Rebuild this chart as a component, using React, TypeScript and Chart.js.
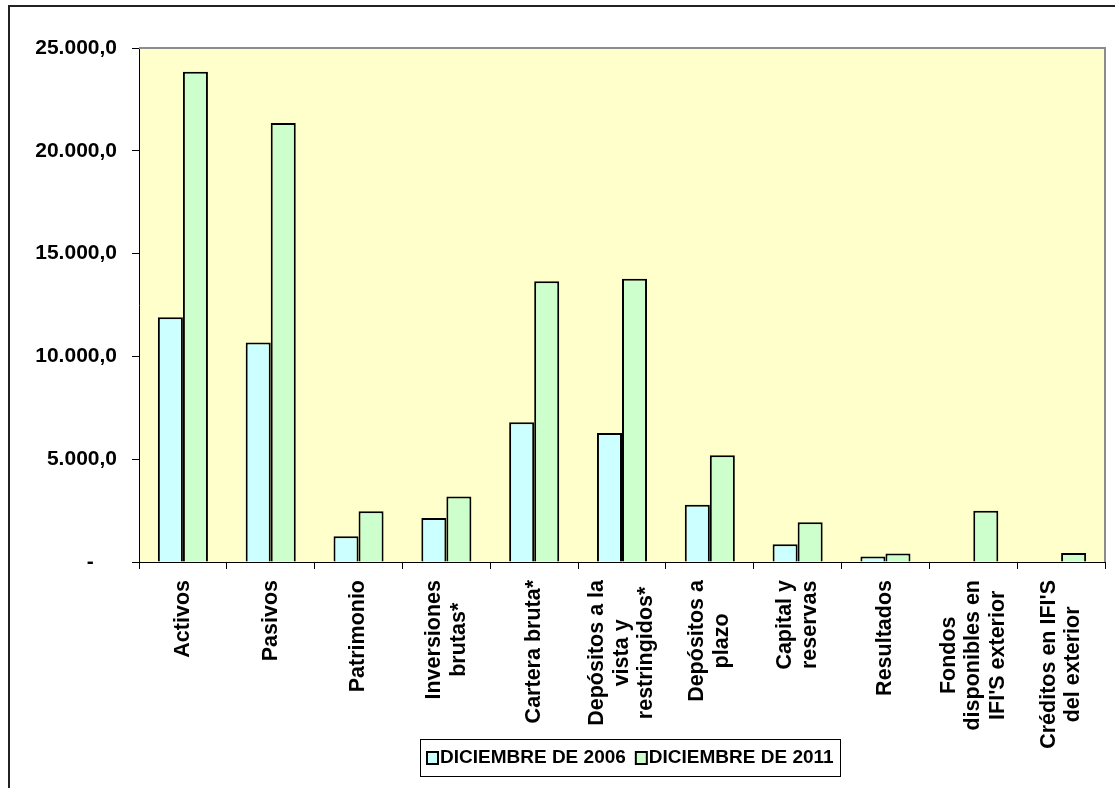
import React, { useEffect, useRef } from 'react';
import { Chart, registerables } from 'chart.js';

Chart.register(...registerables);

const categories: string[][] = [
  ['Activos'],
  ['Pasivos'],
  ['Patrimonio'],
  ['Inversiones', 'brutas*'],
  ['Cartera bruta*'],
  ['Depósitos a la', 'vista y', 'restringidos*'],
  ['Depósitos a', 'plazo'],
  ['Capital y', 'reservas'],
  ['Resultados'],
  ['Fondos', 'disponibles en', "IFI'S exterior"],
  ["Créditos en IFI'S", 'del exterior'],
];

const seriesLabels = ['DICIEMBRE DE 2006', 'DICIEMBRE DE 2011'];
const dic2006: (number | null)[] = [11900, 10680, 1250, 2145, 6800, 6280, 2780, 865, 265, null, null];
const dic2011: number[] = [23850, 21350, 2470, 3190, 13660, 13775, 5190, 1935, 410, 2490, 440];
const yMin = 0;
const yMax = 25000;
const yStep = 5000;

const seriesColors = ['#CCFFFF', '#CCFFCC'];
const FONT = '"Liberation Sans", Arial, sans-serif';

function fmt(v: number): string {
  if (v === 0) return '-    ';
  const s = Math.round(v).toString().replace(/\B(?=(\d{3})+(?!\d))/g, '.');
  return s + ',0';
}

const framePlugin = {
  id: 'framePlugin',
  beforeDraw(chart: any) {
    const { ctx, chartArea } = chart;
    ctx.save();
    ctx.fillStyle = '#FFFFFF';
    ctx.fillRect(0, 0, chart.width, chart.height);
    ctx.fillStyle = '#FFFFCC';
    ctx.fillRect(chartArea.left, chartArea.top, chartArea.right - chartArea.left, chartArea.bottom - chartArea.top);
    ctx.strokeStyle = '#222222';
    ctx.lineWidth = 2;
    ctx.beginPath();
    ctx.moveTo(9, chart.height);
    ctx.lineTo(9, 6);
    ctx.lineTo(chart.width, 6);
    ctx.stroke();
    ctx.restore();
  },
  afterDraw(chart: any) {
    const { ctx, chartArea } = chart;
    ctx.save();
    // plot border (top & right)
    ctx.strokeStyle = '#8C8C8C';
    ctx.lineWidth = 2;
    ctx.beginPath();
    ctx.moveTo(chartArea.left, chartArea.top);
    ctx.lineTo(chartArea.right, chartArea.top);
    ctx.lineTo(chartArea.right, chartArea.bottom);
    ctx.stroke();

    // x labels, rotated, centered lines
    const xScale = chart.scales.x;
    ctx.fillStyle = '#000000';
    ctx.font = `bold 21.5px ${FONT}`;
    ctx.textAlign = 'center';
    ctx.textBaseline = 'middle';
    const lineH = 24.5;
    const topY = chartArea.bottom + 18;
    categories.forEach((lines, i) => {
      const x = xScale.getPixelForValue(i);
      const maxW = Math.max(...lines.map((l) => ctx.measureText(l).width));
      ctx.save();
      ctx.translate(x, topY + maxW / 2);
      ctx.rotate(-Math.PI / 2);
      const n = lines.length;
      lines.forEach((l, j) => {
        ctx.fillText(l, 0, (j - (n - 1) / 2) * lineH);
      });
      ctx.restore();
    });

    // legend
    const bx = 420, by = 739, bw = 420, bh = 37;
    ctx.strokeStyle = '#000000';
    ctx.lineWidth = 1;
    ctx.strokeRect(bx + 0.5, by + 0.5, bw, bh);
    ctx.font = `bold 19px ${FONT}`;
    ctx.textAlign = 'left';
    ctx.textBaseline = 'middle';
    let lx = 427;
    const cy = 758;
    chart.data.datasets.forEach((ds: any) => {
      ctx.fillStyle = ds.backgroundColor;
      ctx.fillRect(lx, cy - 6, 11, 12);
      ctx.strokeStyle = '#000000';
      ctx.lineWidth = 2;
      ctx.strokeRect(lx, cy - 6, 11, 12);
      ctx.fillStyle = '#000000';
      ctx.fillText(ds.label, lx + 13, cy);
      lx += 13 + ctx.measureText(ds.label).width + 10;
    });
    ctx.restore();
  },
};

export default function App() {
  const ref = useRef<HTMLCanvasElement | null>(null);
  useEffect(() => {
    if (!ref.current) return;
    const chart = new Chart(ref.current, {
      type: 'bar',
      data: {
        labels: categories.map((c) => c.join(' ')),
        datasets: [
          {
            label: seriesLabels[0],
            data: dic2006,
            backgroundColor: seriesColors[0],
            borderColor: '#000000',
            borderWidth: 2,
          },
          {
            label: seriesLabels[1],
            data: dic2011,
            backgroundColor: seriesColors[1],
            borderColor: '#000000',
            borderWidth: 2,
          },
        ],
      },
      options: {
        responsive: false,
        animation: false,
        devicePixelRatio: 1,
        datasets: { bar: { categoryPercentage: 0.57, barPercentage: 1.0 } },
        layout: { padding: { left: 0, top: 48, right: 10, bottom: 0 } },
        plugins: {
          legend: { display: false },
          tooltip: { enabled: false },
          title: { display: false },
        },
        scales: {
          x: {
            type: 'category',
            offset: true,
            grid: {
              offset: true,
              drawOnChartArea: false,
              drawTicks: true,
              tickLength: 7,
              color: '#000000',
            },
            border: { display: true, color: '#000000', width: 1 },
            ticks: { display: false },
            afterFit: (scale: any) => {
              scale.height = 788 - 562;
            },
          },
          y: {
            min: yMin,
            max: yMax,
            grid: {
              drawOnChartArea: false,
              drawTicks: true,
              tickLength: 7,
              color: '#000000',
            },
            border: { display: true, color: '#000000', width: 1 },
            ticks: {
              stepSize: yStep,
              padding: 15,
              color: '#000000',
              font: { family: FONT, size: 21, weight: 'bold' },
              callback: (v: any) => fmt(Number(v)),
            },
            afterFit: (scale: any) => {
              scale.width = 139;
            },
          },
        },
      },
      plugins: [framePlugin],
    });
    return () => chart.destroy();
  }, []);
  return (
    <canvas
      ref={ref}
      width={1115}
      height={788}
      style={{ position: 'absolute', left: 0, top: 0, width: 1115, height: 788 }}
    />
  );
}
